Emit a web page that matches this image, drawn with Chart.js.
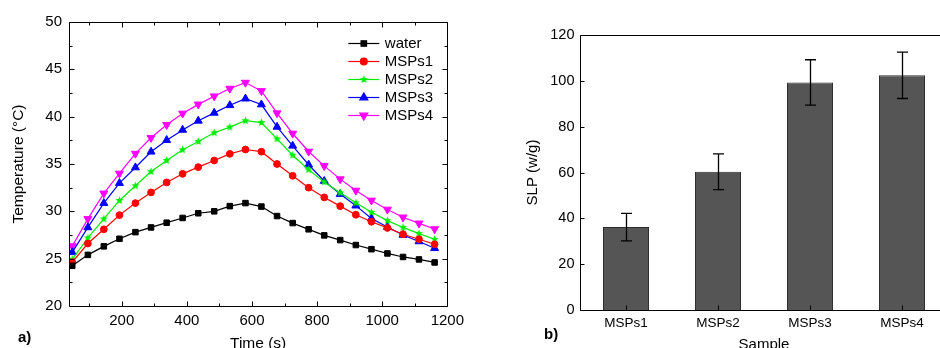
<!DOCTYPE html>
<html>
<head>
<meta charset="utf-8">
<script src="https://cdn.jsdelivr.net/npm/chart.js@4.4.0/dist/chart.umd.min.js"></script>
<style>
  html, body { margin: 0; padding: 0; background: #fff; overflow: hidden; }
  #page { position: relative; width: 940px; height: 348px; overflow: hidden; }
  .panel { position: absolute; top: 0; height: 356px; }
  #left { left: 0; width: 470px; }
  #right { left: 470px; width: 480px; }
  .tag { position: absolute; font: bold 15px "Liberation Sans", Arial, sans-serif; line-height: 16px; color: #000; }
</style>
</head>
<body>
<div id="page">
  <div class="panel" id="left"><canvas id="temp" width="470" height="356"></canvas></div>
  <div class="panel" id="right"><canvas id="slp" width="480" height="356"></canvas></div>
  <div class="tag" style="left:18px;top:329px">a)</div>
  <div class="tag" style="left:544px;top:326px">b)</div>
</div>
<script>
// heating curves (s, °C)
const times = [48, 96, 145, 193, 242, 290, 338, 387, 435, 484, 532, 580,
  629, 677, 725, 774, 822, 871, 919, 967, 1016, 1064, 1113, 1161];
const water = [24.25, 25.4, 26.3, 27.1, 27.8, 28.3, 28.8, 29.3, 29.8, 30.0, 30.55, 30.87,
  30.5, 29.5, 28.76, 28.1, 27.46, 26.96, 26.44, 26.0, 25.55, 25.18, 24.92, 24.6];
const msps1 = [24.64, 26.6, 28.1, 29.6, 30.87, 32.0, 33.05, 33.96, 34.67, 35.37, 36.07, 36.53,
  36.3, 35.0, 33.75, 32.5, 31.47, 30.55, 29.64, 28.9, 28.25, 27.58, 27.05, 26.52];
const msps2 = [24.93, 27.2, 29.2, 31.15, 32.7, 34.2, 35.37, 36.5, 37.38, 38.3, 38.9, 39.57,
  39.38, 37.66, 35.93, 34.4, 33.1, 31.96, 30.9, 29.9, 29.02, 28.3, 27.65, 27.05];
const msps3 = [25.67, 28.3, 30.87, 32.98, 34.63, 36.29, 37.52, 38.6, 39.56, 40.4, 41.2, 41.9,
  41.28, 38.92, 36.92, 34.92, 33.2, 31.82, 30.6, 29.25, 28.35, 27.5, 26.82, 26.1];
const msps4 = [26.33, 29.2, 31.9, 34.0, 36.1, 37.77, 39.14, 40.34, 41.3, 42.16, 42.97, 43.6,
  42.72, 40.37, 38.22, 36.32, 34.8, 33.4, 32.2, 31.15, 30.2, 29.37, 28.73, 28.13];
const timeLabels = [200, 400, 600, 800, 1000, 1200];

// specific loss power
const samples = ['MSPs1', 'MSPs2', 'MSPs3', 'MSPs4'];
const slp = [36.2, 60.3, 99.3, 102.4];
const slpErr = [6.0, 7.8, 9.9, 10.1];

Chart.defaults.font.family = '"Liberation Sans", Arial, sans-serif';
Chart.defaults.color = '#000';

// filled five-point star, the library only has an asterisk
function starImage(color, r) {
  const size = Math.ceil(r * 2) + 2;
  const c = document.createElement('canvas');
  c.width = c.height = size;
  const g = c.getContext('2d');
  g.fillStyle = color;
  g.beginPath();
  for (let k = 0; k < 10; k++) {
    const rad = k % 2 ? r * 0.45 : r;
    const ang = -Math.PI / 2 + k * Math.PI / 5;
    g.lineTo(size / 2 + rad * Math.cos(ang), size / 2 + rad * Math.sin(ang));
  }
  g.closePath();
  g.fill();
  return c;
}

// box round the plot with inward ticks (Origin style)
function frame(spec) {
  return {
    id: 'frame',
    afterDraw(chart) {
      const { ctx, chartArea: a, scales } = chart;
      const px = v => Math.round(v) + 0.5;
      const l = px(a.left), r = px(a.right), t = px(a.top), b = px(a.bottom);
      ctx.save();
      ctx.strokeStyle = '#000';
      ctx.lineWidth = 1;
      ctx.beginPath();
      ctx.rect(l, t, r - l, b - t);
      spec.x.forEach(([v, len]) => {
        const x = px(scales.x.getPixelForValue(v));
        ctx.moveTo(x, b); ctx.lineTo(x, b - len);
        if (spec.top) { ctx.moveTo(x, t); ctx.lineTo(x, t + len); }
      });
      spec.y.forEach(([v, len]) => {
        const y = px(scales.y.getPixelForValue(v));
        ctx.moveTo(l, y); ctx.lineTo(l + len, y);
        if (spec.right) { ctx.moveTo(r, y); ctx.lineTo(r - len, y); }
      });
      ctx.stroke();
      ctx.restore();
    }
  };
}

const series = [
  { label: 'water', data: water, color: '#000000', pointStyle: 'rect', radius: 3.9 },
  { label: 'MSPs1', data: msps1, color: '#ff0000', pointStyle: 'circle', radius: 3.4 },
  { label: 'MSPs2', data: msps2, color: '#00ee00', pointStyle: starImage('#00ee00', 4.2), radius: 4 },
  { label: 'MSPs3', data: msps3, color: '#0000ff', pointStyle: 'triangle', radius: 4.6 },
  { label: 'MSPs4', data: msps4, color: '#ff00ff', pointStyle: 'triangle', radius: 4.6, rotation: 180 },
];

// legend drawn inside the plot: line + marker + label
const insideLegend = {
  id: 'insideLegend',
  afterDraw(chart) {
    const { ctx, chartArea: a } = chart;
    ctx.save();
    ctx.font = '15px "Liberation Sans", Arial, sans-serif';
    ctx.textBaseline = 'middle';
    chart.data.datasets.forEach((ds, i) => {
      const y = a.top + 21.5 + i * 18;
      const x0 = a.right - 99, x1 = a.right - 68, xm = (x0 + x1) / 2;
      ctx.strokeStyle = ds.borderColor;
      ctx.fillStyle = ds.backgroundColor;
      ctx.lineWidth = 1.2;
      ctx.beginPath();
      ctx.moveTo(x0, y); ctx.lineTo(x1, y);
      ctx.stroke();
      Chart.helpers.drawPoint(ctx, {
        pointStyle: ds.pointStyle, rotation: ds.pointRotation || 0,
        radius: ds.pointRadius, borderWidth: 1
      }, xm, y);
      ctx.fillStyle = '#000';
      ctx.fillText(ds.label, a.right - 62.5, y + 0.5);
    });
    ctx.restore();
  }
};

const xTicks = [];
for (let v = 100; v <= 1200; v += 100) xTicks.push([v, v % 200 === 0 ? 5 : 3]);
const yTicks = [];
for (let v = 20; v <= 50; v += 2.5) yTicks.push([v, v % 5 === 0 ? 5 : 3]);

new Chart(document.getElementById('temp'), {
  type: 'line',
  data: {
    datasets: series.map(s => ({
      label: s.label,
      data: times.map((t, i) => ({ x: t, y: s.data[i] })),
      borderColor: s.color,
      backgroundColor: s.color,
      borderWidth: 1.2,
      pointStyle: s.pointStyle,
      pointRotation: s.rotation || 0,
      pointRadius: s.radius,
      pointBorderWidth: 1,
      tension: 0,
    })),
  },
  options: {
    responsive: false,
    animation: false,
    layout: { padding: { top: 22, right: 19, left: 0, bottom: 0 } },
    plugins: { legend: { display: false }, tooltip: { enabled: false } },
    scales: {
      x: {
        type: 'linear', min: 38, max: 1200,
        grid: { display: false, drawTicks: false },
        border: { display: false },
        ticks: { padding: 6, maxRotation: 0, font: { size: 15 }, color: '#000', callback: v => String(v) },
        afterBuildTicks: s => { s.ticks = timeLabels.map(v => ({ value: v })); },
        afterFit: s => { s.height = 50; },
        title: { display: true, text: 'Time (s)', font: { size: 15.5 }, color: '#000', padding: { top: 0, bottom: 2.5 } },
      },
      y: {
        min: 20, max: 50,
        grid: { display: false, drawTicks: false },
        border: { display: false },
        ticks: { stepSize: 5, padding: 7, font: { size: 15 }, color: '#000' },
        afterFit: s => { s.width = 69; },
        title: { display: true, text: 'Temperature (°C)', font: { size: 15.5 }, color: '#000', padding: { top: 9.7, bottom: 0 } },
      },
    },
  },
  plugins: [frame({ x: xTicks, y: yTicks, top: true, right: true }), insideLegend],
});

const errorBars = {
  id: 'errorBars',
  afterDatasetsDraw(chart) {
    const { ctx } = chart;
    const y = chart.scales.y;
    ctx.save();
    ctx.strokeStyle = '#000';
    ctx.lineWidth = 1.3;
    chart.getDatasetMeta(0).data.forEach((bar, i) => {
      const x = Math.round(bar.x) + 0.5;
      const hi = y.getPixelForValue(slp[i] + slpErr[i]);
      const lo = y.getPixelForValue(slp[i] - slpErr[i]);
      ctx.beginPath();
      ctx.moveTo(x, hi); ctx.lineTo(x, lo);
      ctx.moveTo(x - 5.5, hi); ctx.lineTo(x + 5.5, hi);
      ctx.moveTo(x - 5.5, lo); ctx.lineTo(x + 5.5, lo);
      ctx.stroke();
    });
    ctx.restore();
  }
};

const slpTicks = [];
for (let v = 0; v <= 120; v += 20) slpTicks.push([v, 4]);

new Chart(document.getElementById('slp'), {
  type: 'bar',
  data: {
    labels: samples,
    datasets: [{
      data: slp,
      backgroundColor: '#555555',
      borderColor: '#2e2e2e',
      borderWidth: 1,
      barPercentage: 1,
      categoryPercentage: 0.5,
    }],
  },
  options: {
    responsive: false,
    animation: false,
    layout: { padding: { top: 35, right: 2, left: 0, bottom: 0 } },
    plugins: { legend: { display: false }, tooltip: { enabled: false } },
    scales: {
      x: {
        grid: { display: false, drawTicks: false },
        border: { display: false },
        ticks: { padding: 5, font: { size: 13.5 }, color: '#000' },
        afterFit: s => { s.height = 46; },
        title: { display: true, text: 'Sample', font: { size: 15 }, color: '#000', padding: { top: 0, bottom: 2.5 } },
      },
      y: {
        min: 0, max: 120,
        grid: { display: false, drawTicks: false },
        border: { display: false },
        ticks: { stepSize: 20, padding: 5.5, font: { size: 14.5 }, color: '#000' },
        afterFit: s => { s.width = 110; },
        title: { display: true, text: 'SLP (w/g)', font: { size: 15 }, color: '#000', padding: { top: 54, bottom: 0 } },
      },
    },
  },
  plugins: [frame({ x: samples.map((s, i) => [i, 5]), y: slpTicks, top: false, right: false }), errorBars],
});
</script>
</body>
</html>
